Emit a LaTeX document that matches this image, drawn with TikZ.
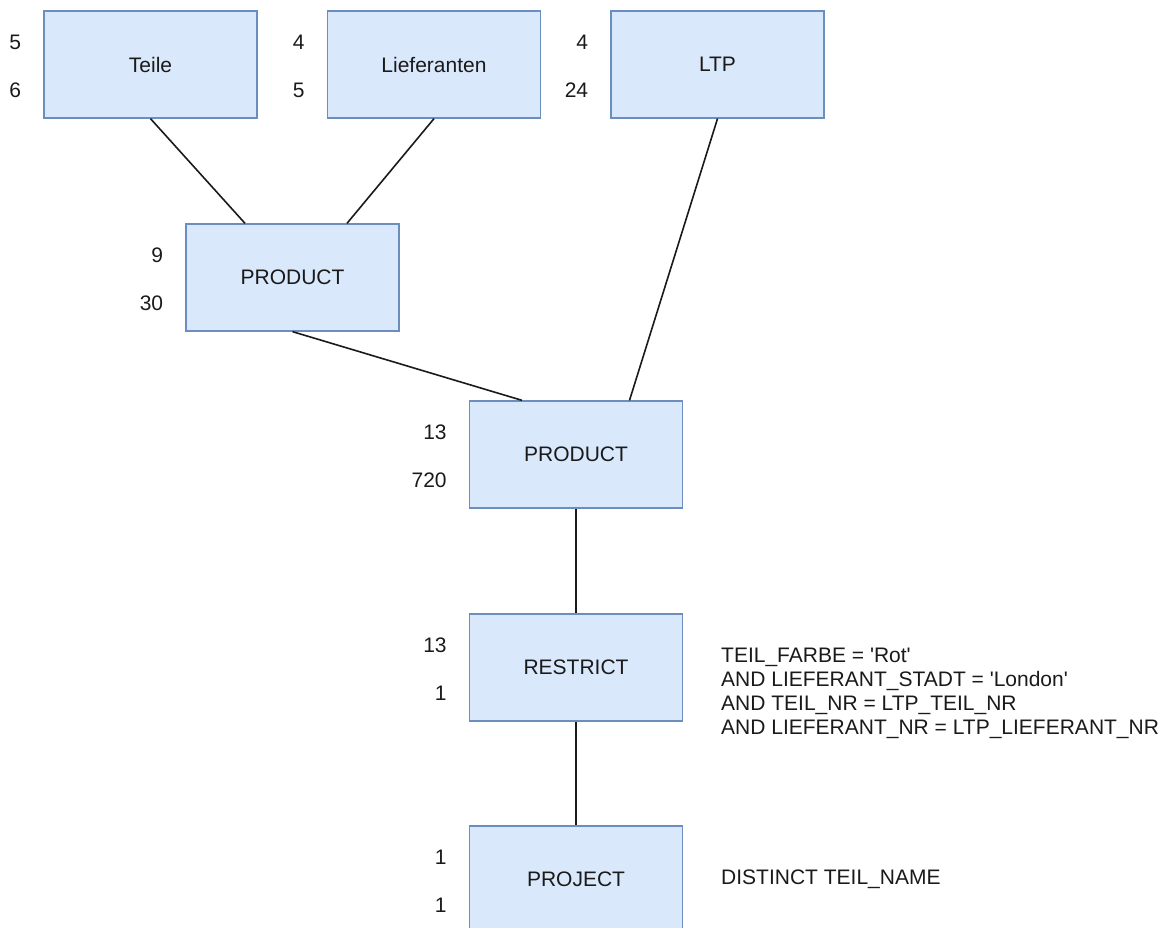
\documentclass[tikz,border=0pt]{standalone}
\usepackage{fontspec}
\setmainfont{Liberation Sans}
\definecolor{opfill}{HTML}{DAE8FC}
\definecolor{opline}{HTML}{6C8EBF}
\definecolor{ink}{HTML}{1A1A1A}
\tikzset{
  opbox/.style={draw=opline, fill=opfill, line width=1.3pt,
    minimum width=213pt, minimum height=107pt, inner sep=0pt,
    text=ink, font=\fontsize{21}{24}\selectfont},
  card/.style={anchor=east, inner sep=0pt, text=ink,
    font=\fontsize{21}{24}\selectfont},
  link/.style={line width=1.6pt, draw=ink},
  note/.style={anchor=west, align=left, inner sep=0pt, text=ink,
    font=\fontsize{21}{24}\selectfont}
}
\begin{document}
\begin{tikzpicture}[x=1pt, y=-1pt]
  \useasboundingbox (0,0) rectangle (1173,928);

  % operator boxes of the query tree
  \node[opbox] (teile) at (150.5,64.5) {Teile};
  \node[opbox] (lief)  at (434,64.5)   {Lieferanten};
  \node[opbox] (ltp)   at (717.5,64.5) {LTP};
  \node[opbox] (prodA) at (292.5,277.5) {PRODUCT};
  \node[opbox] (prodB) at (576,454.5)  {PRODUCT};
  \node[opbox] (restr) at (576,667.5)  {RESTRICT};
  \node[opbox] (proj)  at (576,879.5)  {PROJECT};

  % cardinalities (columns above, rows below) left of each box
  \foreach \b/\u/\l in {teile/5/6, lief/4/5, ltp/4/24, prodA/9/30,
                        prodB/13/720, restr/13/1, proj/1/1} {
    \node[card] (\b-cols) at ([xshift=-22pt, yshift=22.5pt]\b.west) {\u};
    \node[card] (\b-rows) at ([xshift=-22pt, yshift=-25.5pt]\b.west) {\l};
  }

  % connectors
  \draw[link] (teile.south) -- ([xshift=-47.5pt]prodA.north);
  \draw[link] (lief.south)  -- ([xshift=54.5pt]prodA.north);
  \draw[link] (ltp.south)   -- ([xshift=53.5pt]prodB.north);
  \draw[link] (prodA.south) -- ([xshift=-54pt]prodB.north);
  \draw[link] (prodB.south) -- (restr.north);
  \draw[link] (restr.south) -- (proj.north);

  % conditions of the operators
  \node[note] (restr-cond) at (721,693) {TEIL\_FARBE = \textquotesingle Rot\textquotesingle\\
    AND LIEFERANT\_STADT = \textquotesingle London\textquotesingle\\
    AND TEIL\_NR = LTP\_TEIL\_NR\\
    AND LIEFERANT\_NR = LTP\_LIEFERANT\_NR};
  \node[note] (proj-cond) at (721,879.5) {DISTINCT TEIL\_NAME};
\end{tikzpicture}
\end{document}
